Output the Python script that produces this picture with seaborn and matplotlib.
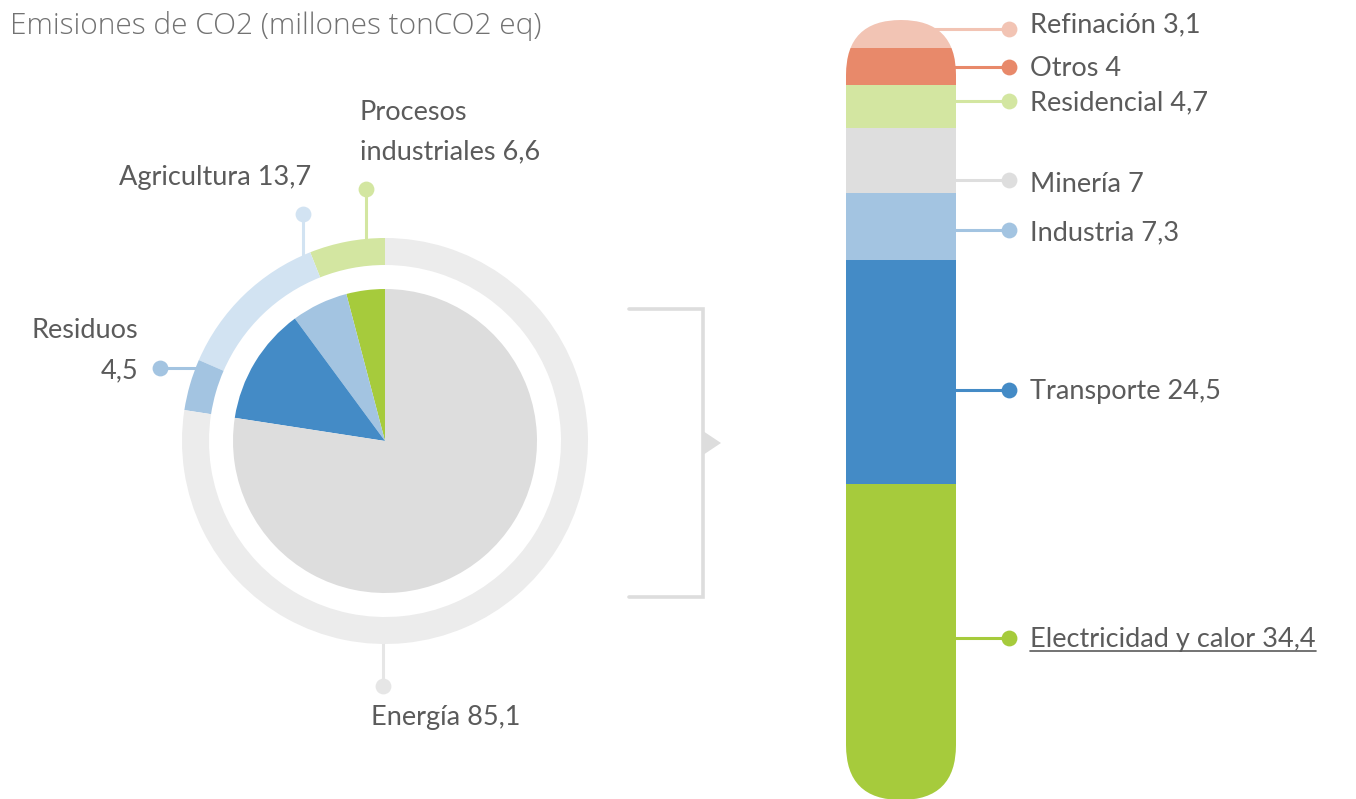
import matplotlib
matplotlib.use("Agg")
import matplotlib.pyplot as plt
from matplotlib.patches import FancyBboxPatch, Polygon
import seaborn as sns

sns.set_theme(style="white")
plt.rcParams["font.family"] = ["Lato", "DejaVu Sans"]

# --- Data -------------------------------------------------------------------
title = "Emisiones de CO2 (millones tonCO2 eq)"

# Emissions by sector (ring, counter-clockwise from 12 o'clock)
sector_names = ["Procesos industriales", "Agricultura", "Residuos", "Energía"]
sector_values = [6.6, 13.7, 4.5, 85.1]

# Breakdown of the energy sector (stacked column, top to bottom)
energy_names = ["Refinación", "Otros", "Residencial", "Minería", "Industria",
                "Transporte", "Electricidad y calor"]
energy_values = [3.1, 4.0, 4.7, 7.0, 7.3, 24.5, 34.4]

# --- Styling ----------------------------------------------------------------
W, H = 1356, 799
TXT = "#5b5b5b"
ring_colors = ["#d3e6a1", "#d2e3f2", "#a3c4e1", "#ececec"]
pie_colors = ["#a6cb3c", "#a3c4e1", "#448bc6", "#dddddd"]
energy_colors = ["#f2c4b4", "#e8896a", "#d3e6a1", "#dedede", "#a3c4e1",
                 "#448bc6", "#a6cb3c"]


def fmt(v):
    return f"{v:g}".replace(".", ",")


def py(y):
    """Convert a top-down pixel row into the y-up canvas coordinate."""
    return H - y


fig = plt.figure(figsize=(W / 100, H / 100), dpi=100)
ax = fig.add_axes([0, 0, 1, 1])

# --- Ring + inner pie -------------------------------------------------------
cx, cy = 385, py(441)
ax.pie(sector_values, radius=203, center=(cx, cy), startangle=90,
       counterclock=True, colors=ring_colors,
       wedgeprops=dict(width=27, linewidth=0))

# inner pie: the same sectors ordered from smallest to largest
order = sorted(range(len(sector_values)), key=lambda i: sector_values[i])
ax.pie([sector_values[i] for i in order], radius=152, center=(cx, cy),
       startangle=90, counterclock=True, colors=pie_colors,
       wedgeprops=dict(linewidth=0))

ax.set_xlim(0, W)
ax.set_ylim(0, H)
ax.set_aspect("equal")
ax.axis("off")

fs = 19.5
ax.text(10, py(26), title, fontsize=21.5, color="#727272",
        family=["Open Sans", "DejaVu Sans"], fontweight="light",
        ha="left", va="center")

lab = {n: f"{n} {fmt(v)}" for n, v in zip(sector_names, sector_values)}
dot_kw = dict(s=130, zorder=5, linewidths=0)

# Procesos industriales
c = ring_colors[0]
ax.plot([366, 366], [py(189), py(240)], color=c, lw=2.2, zorder=0)
ax.scatter([366], [py(189)], color=c, **dot_kw)
ax.text(360, py(112), "Procesos", fontsize=fs, color=TXT, ha="left", va="center")
ax.text(360, py(152), f"industriales {fmt(sector_values[0])}", fontsize=fs,
        color=TXT, ha="left", va="center")

# Agricultura
c = ring_colors[1]
ax.plot([303, 303], [py(214), py(255)], color=c, lw=2.2, zorder=0)
ax.scatter([303], [py(214)], color=c, **dot_kw)
ax.text(119, py(178), lab["Agricultura"], fontsize=fs, color=TXT,
        ha="left", va="center")

# Residuos
c = ring_colors[2]
ax.plot([160, 205], [py(368), py(368)], color=c, lw=2.2, zorder=0)
ax.scatter([160], [py(368)], color=c, **dot_kw)
ax.text(138, py(331), "Residuos", fontsize=fs, color=TXT, ha="right", va="center")
ax.text(138, py(371), fmt(sector_values[2]), fontsize=fs, color=TXT,
        ha="right", va="center")

# Energía
c = "#e6e6e6"
ax.plot([383, 383], [py(640), py(686)], color=c, lw=2.2, zorder=0)
ax.scatter([383], [py(686)], color=c, **dot_kw)
ax.text(371, py(718), lab["Energía"], fontsize=fs, color=TXT,
        ha="left", va="center")

# Bracket with arrow pointing to the energy breakdown
br = "#dddddd"
ax.plot([629, 703, 703, 629], [py(309), py(309), py(597), py(597)],
        color=br, lw=2.6, solid_joinstyle="miter")
ax.add_patch(Polygon([(703, py(431)), (721, py(443)), (703, py(455))],
                     closed=True, facecolor=br, edgecolor="none"))

# --- Energy stacked column --------------------------------------------------
bx0, bw, btop, bbot = 846, 110, 20, 800
total = sum(energy_values)
ax_bar = fig.add_axes([bx0 / W, (H - bbot) / H, bw / W, (bbot - btop) / H])
ax_bar.patch.set_alpha(0)
bottoms = [sum(energy_values[:i]) for i in range(len(energy_values))]
bars = ax_bar.bar([0] * len(energy_values), energy_values, bottom=bottoms,
                  width=1.0, color=energy_colors, linewidth=0)
ax_bar.set_xlim(-0.5, 0.5)
ax_bar.set_ylim(total, 0)
ax_bar.axis("off")

capsule = FancyBboxPatch((bx0, py(bbot)), bw, bbot - btop,
                         boxstyle=f"round,pad=0,rounding_size={bw / 2}",
                         transform=ax.transData, facecolor="none",
                         edgecolor="none")
for b in bars:
    b.set_clip_path(capsule)

# Callouts for the column
callout_y = [29, 67, 101, 180, 230, 390, 638]
text_y = [25, 68, 103, 184, 233, 392, 640]
texts = []
for name, v, col, ly, ty in zip(energy_names, energy_values, energy_colors,
                                callout_y, text_y):
    ax.plot([bx0 + bw / 2, 1009], [py(ly), py(ly)], color=col, lw=2.2, zorder=0)
    ax.scatter([1009], [py(ly)], color=col, **dot_kw)
    texts.append(ax.text(1030, py(ty), f"{name} {fmt(v)}", fontsize=fs,
                         color=TXT, ha="left", va="center"))

# underline on the largest contributor
fig.canvas.draw()
bb = texts[-1].get_window_extent()
ax.plot([bb.x0, bb.x1], [py(651), py(651)], color=TXT, lw=1.2)

fig.savefig("out.png", dpi=100, facecolor="white")
